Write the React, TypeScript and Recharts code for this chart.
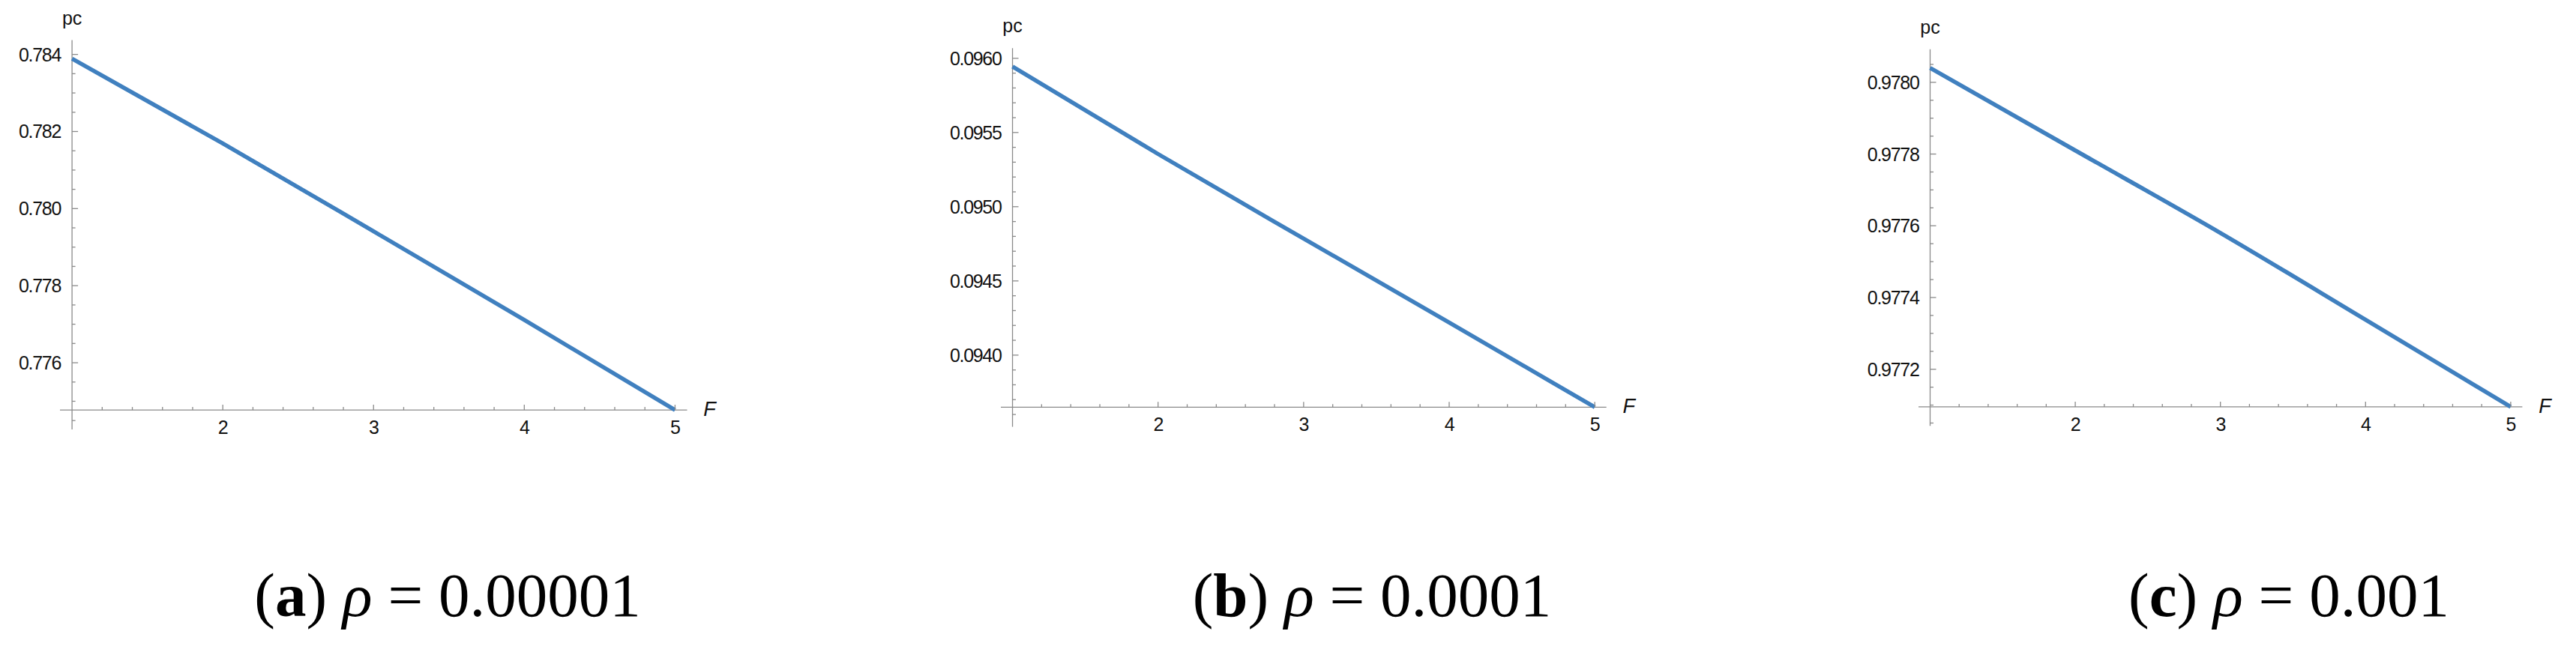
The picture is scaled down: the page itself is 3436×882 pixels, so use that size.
import React from "react";
import { LineChart, Line, XAxis, YAxis, ReferenceLine, ReferenceDot } from "recharts";

// pc at F = 1..5
const F_VALUES = [1, 2, 3, 4, 5];
const PC_RHO_A = [0.78389, 0.78169, 0.77941, 0.77711, 0.774774];
const PC_RHO_B = [0.095944, 0.095355, 0.094785, 0.09422, 0.093649];
const PC_RHO_C = [0.97804, 0.97781, 0.97758, 0.977338, 0.977095];

const X_TICKS = [2, 3, 4, 5];
const X_MINOR_STEP = 0.2;
const X_DOMAIN: [number, number] = [0.92, 5.08];

const Y_TICKS_A = [0.776, 0.778, 0.78, 0.782, 0.784];
const Y_TICKS_B = [0.094, 0.0945, 0.095, 0.0955, 0.096];
const Y_TICKS_C = [0.9772, 0.9774, 0.9776, 0.9778, 0.978];

const Y_DOMAIN_A: [number, number] = [0.77427, 0.78437];
const Y_DOMAIN_B: [number, number] = [0.093517, 0.096068];
const Y_DOMAIN_C: [number, number] = [0.977042, 0.978092];

const CAPTION_LETTERS = ["a", "b", "c"];
const CAPTION_RHO = ["0.00001", "0.0001", "0.001"];

const AXIS_COLOR = "#8a8a8a";
const LINE_COLOR = "#4080bf";
const SANS = "'Liberation Sans', Arial, sans-serif";
const SERIF = "'Liberation Serif', 'Times New Roman', serif";

const tickText = {
  fontFamily: SANS,
  fontSize: 25,
  letterSpacing: -1.3,
  fill: "#111",
};

// multiples of step inside [lo, hi] that are not major ticks
function minorTicks(lo: number, hi: number, step: number, majors: number[]) {
  const out: number[] = [];
  for (let k = Math.ceil(lo / step - 1e-6); k <= Math.floor(hi / step + 1e-6); k++) {
    const v = Number((k * step).toFixed(8));
    if (!majors.some((m) => Math.abs(m - v) < step / 10)) out.push(v);
  }
  return out;
}

type Layout = { plotLeft: number; plotTop: number; plotRight: number; plotBottom: number; padRight: number };

function Panel({
  layout,
  values,
  yDomain,
  yTicks,
  yDigits,
  yMinorStep,
}: {
  layout: Layout;
  values: number[];
  yDomain: [number, number];
  yTicks: number[];
  yDigits: number;
  yMinorStep: number;
}) {
  const data = F_VALUES.map((F, i) => ({ F, pc: values[i] }));
  const yCross = Math.min(...values);
  const padLeft = 100;
  const padBottom = 60;
  const width = layout.plotRight - layout.plotLeft + padLeft + layout.padRight;
  const height = layout.plotBottom + padBottom;

  const xMinor = minorTicks(1 + X_MINOR_STEP, 5, X_MINOR_STEP, X_TICKS);
  const yMinor = minorTicks(yDomain[0], yDomain[1], yMinorStep, yTicks);

  return (
    <div style={{ position: "absolute", left: layout.plotLeft - padLeft, top: 0 }}>
      <LineChart
        width={width}
        height={height}
        data={data}
        margin={{ top: layout.plotTop, right: layout.padRight, bottom: padBottom, left: padLeft }}
      >
        <XAxis type="number" dataKey="F" domain={X_DOMAIN} hide allowDataOverflow />
        <YAxis type="number" domain={yDomain} hide allowDataOverflow />
        <ReferenceLine x={1} stroke={AXIS_COLOR} strokeWidth={1.3} ifOverflow="visible" />
        <ReferenceLine y={yCross} stroke={AXIS_COLOR} strokeWidth={1.3} ifOverflow="visible" />

        {xMinor.map((v) => (
          <ReferenceDot
            key={"xm" + v}
            x={v}
            y={yCross}
            ifOverflow="visible"
            shape={(p: any) => (
              <line x1={p.cx} y1={p.cy} x2={p.cx} y2={p.cy - 4} stroke={AXIS_COLOR} strokeWidth={1.3} />
            )}
          />
        ))}
        {X_TICKS.map((v) => (
          <ReferenceDot
            key={"x" + v}
            x={v}
            y={yCross}
            ifOverflow="visible"
            shape={(p: any) => (
              <g>
                <line x1={p.cx} y1={p.cy} x2={p.cx} y2={p.cy - 7} stroke={AXIS_COLOR} strokeWidth={1.3} />
                <text x={p.cx} y={p.cy + 32} textAnchor="middle" {...tickText}>
                  {v}
                </text>
              </g>
            )}
          />
        ))}
        {yMinor.map((v) => (
          <ReferenceDot
            key={"ym" + v}
            x={1}
            y={v}
            ifOverflow="visible"
            shape={(p: any) => (
              <line x1={p.cx} y1={p.cy} x2={p.cx + 4.5} y2={p.cy} stroke={AXIS_COLOR} strokeWidth={1.3} />
            )}
          />
        ))}
        {yTicks.map((v) => (
          <ReferenceDot
            key={"y" + v}
            x={1}
            y={v}
            ifOverflow="visible"
            shape={(p: any) => (
              <g>
                <line x1={p.cx} y1={p.cy} x2={p.cx + 8} y2={p.cy} stroke={AXIS_COLOR} strokeWidth={1.3} />
                <text x={p.cx - 15} y={p.cy + 9} textAnchor="end" {...tickText}>
                  {v.toFixed(yDigits)}
                </text>
              </g>
            )}
          />
        ))}

        <ReferenceDot
          x={1}
          y={yDomain[1]}
          ifOverflow="visible"
          shape={(p: any) => (
            <text x={p.cx} y={p.cy - 21} textAnchor="middle" {...tickText} letterSpacing={0}>
              pc
            </text>
          )}
        />
        <ReferenceDot
          x={X_DOMAIN[1]}
          y={yCross}
          ifOverflow="visible"
          shape={(p: any) => (
            <text
              x={p.cx + 30}
              y={p.cy + 8}
              textAnchor="middle"
              fontFamily={SANS}
              fontSize={27}
              fontStyle="italic"
              fill="#111"
            >
              F
            </text>
          )}
        />

        <Line
          dataKey="pc"
          type="monotone"
          stroke={LINE_COLOR}
          strokeWidth={5.5}
          dot={false}
          isAnimationActive={false}
        />
      </LineChart>
    </div>
  );
}

const CAPTION_X = [597, 1830, 3053];

export default function App() {
  return (
    <div
      style={{
        position: "absolute",
        left: 0,
        top: 0,
        width: 3436,
        height: 882,
        background: "#fff",
        overflow: "hidden",
      }}
    >
      <Panel
        layout={{ plotLeft: 79.6, plotTop: 53.6, plotRight: 916.1, plotBottom: 573, padRight: 90 }}
        values={PC_RHO_A}
        yDomain={Y_DOMAIN_A}
        yTicks={Y_TICKS_A}
        yDigits={3}
        yMinorStep={0.0005}
      />
      <Panel
        layout={{ plotLeft: 1334.8, plotTop: 64.3, plotRight: 2142.5, plotBottom: 569.5, padRight: 90 }}
        values={PC_RHO_B}
        yDomain={Y_DOMAIN_B}
        yTicks={Y_TICKS_B}
        yDigits={4}
        yMinorStep={0.0001}
      />
      <Panel
        layout={{ plotLeft: 2558.9, plotTop: 65.8, plotRight: 3364.3, plotBottom: 568.3, padRight: 70 }}
        values={PC_RHO_C}
        yDomain={Y_DOMAIN_C}
        yTicks={Y_TICKS_C}
        yDigits={4}
        yMinorStep={0.00005}
      />
      <svg
        width={3436}
        height={182}
        style={{ position: "absolute", left: 0, top: 700 }}
      >
        {CAPTION_LETTERS.map((letter, i) => (
          <text
            key={letter}
            x={CAPTION_X[i]}
            y={122}
            textAnchor="middle"
            fontFamily={SERIF}
            fontSize={83}
            fill="#000"
          >
            (<tspan fontWeight="bold">{letter}</tspan>){" "}
            <tspan fontStyle="italic">ρ</tspan>
            {" = " + CAPTION_RHO[i]}
          </text>
        ))}
      </svg>
    </div>
  );
}
